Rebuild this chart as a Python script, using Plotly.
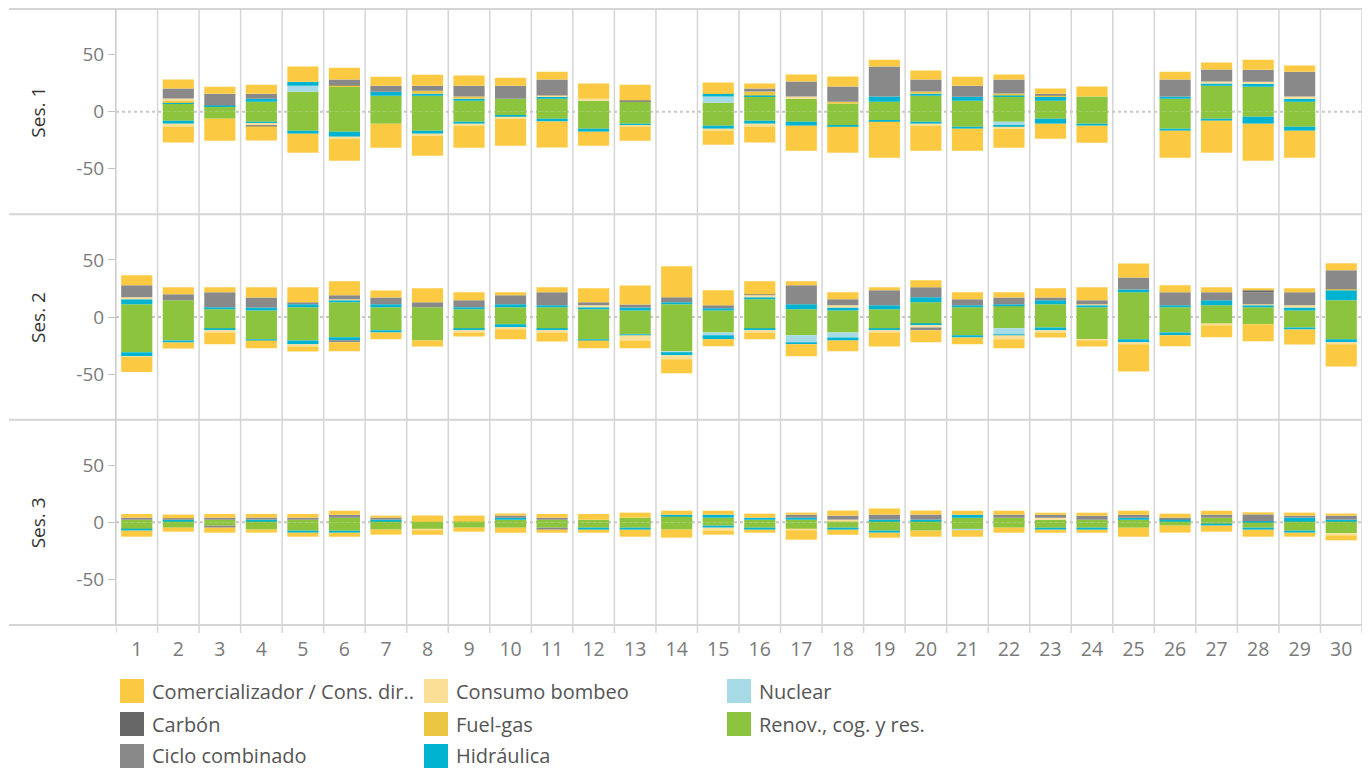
import plotly.graph_objects as go
from plotly.subplots import make_subplots

# ---------------- data ----------------
DAYS = list(range(1, 31))
DAY_LABELS = [str(d) for d in DAYS]
SESSIONS = ["Ses. 1", "Ses. 2", "Ses. 3"]

# legend order (as shown in the legend, row by row)
LEGEND_ITEMS = ["Comercializador / Cons. dir..", "Consumo bombeo", "Nuclear",
                "Carbón", "Fuel-gas", "Renov., cog. y res.",
                "Ciclo combinado", "Hidráulica"]
# stacking order from zero outward
STACK_ORDER = ["Renov., cog. y res.", "Nuclear", "Hidráulica", "Fuel-gas",
               "Consumo bombeo", "Ciclo combinado", "Carbón",
               "Comercializador / Cons. dir.."]
COLORS = {
    "Comercializador / Cons. dir..": "#FCCA42",
    "Consumo bombeo": "#FBDF97",
    "Nuclear": "#A6DAE6",
    "Carbón": "#676767",
    "Fuel-gas": "#EAC642",
    "Renov., cog. y res.": "#8CC43E",
    "Ciclo combinado": "#898989",
    "Hidráulica": "#00B3D0",
}

# ---- Session 1 ----
S1_REN_UP = [0, 7.3, 4.4, 8.8, 17.5, 21.9, 14.0, 14.0, 9.6, 11.4, 11.4, 9.6, 9.1, 0, 7.9, 13.2, 11.4, 7.0, 8.8, 14.0, 9.6, 13.2, 9.6, 13.2, 0, 11.4, 22.8, 21.9, 8.8, 0]
S1_REN_DN = [0, -7.9, -6.1, -8.8, -16.7, -17.5, -10.5, -16.7, -8.8, -3.5, -6.1, -14.9, -10.5, 0, -12.3, -7.9, -8.8, -12.3, -7.9, -8.8, -13.2, -8.8, -6.1, -10.5, 0, -14.9, -6.1, -4.4, -13.2, 0]
S1_NUC_UP = [0, 0, 0, 0, 5.3, 0, 0, 0, 0, 0, 0, 0, 0, 0, 5.3, 0, 0, 0, 0, 0, 0, 0, 0, 0, 0, 0, 0, 0, 0, 0]
S1_NUC_DN = [0, 0, 0, 0, 0, 0, 0, 0, 0, 0, 0, 0, 0, 0, 0, 0, 0, 0, 0, 0, 0, -3.5, 0, 0, 0, 0, 0, 0, 0, 0]
S1_HID_UP = [0, 0.9, 0.9, 2.6, 3.5, 0, 3.5, 1.8, 1.8, 0, 1.8, 0, 0, 0, 2.6, 0.9, 0, 0, 4.4, 1.8, 3.5, 0.9, 3.5, 0, 0, 1.8, 1.8, 2.6, 2.6, 0]
S1_HID_DN = [0, -2.6, 0, -1.8, -2.6, -4.4, 0, -2.6, -1.8, -0.9, -2.6, -2.6, -1.8, 0, -2.6, -2.6, -3.5, -0.9, -0.9, -1.8, -1.8, -0.9, -4.4, -1.8, 0, -1.8, -1.8, -6.1, -3.5, 0]
S1_FUE_UP = [0, 1.5, 0, 0, 0, 0.9, 0, 2.6, 1.8, 0, 0, 0, 0, 0, 1.0, 3.5, 0, 1.8, 0, 1.8, 0, 1.8, 0.9, 0, 0, 0, 0, 0, 0, 0]
S1_BOM_UP = [0, 1.8, 0, 0, 0, 0, 0, 0, 0, 0, 0.9, 1.8, 0, 0, 0, 0, 1.8, 0, 0, 0, 0, 0, 0, 0, 0, 0, 1.8, 1.8, 1.8, 0]
S1_BOM_DN = [0, -2.6, 0, -1.2, 0, -1.8, 0, -1.8, -1.8, -1.8, 0, 0, -0.9, 0, -1.8, -2.6, 0, 0, 0, -1.8, 0, -1.8, 0, 0, 0, 0, 0, 0, 0, 0]
S1_CIC_UP = [0, 8.8, 10.5, 4.4, 0, 5.3, 5.3, 4.4, 9.6, 11.4, 14.0, 0, 0.9, 0, 0, 2.6, 13.2, 13.2, 26.3, 10.5, 9.6, 12.3, 1.8, 0, 0, 14.9, 10.5, 10.5, 21.9, 0]
S1_CIC_DN = [0, 0, 0, -1.2, 0, 0, 0, 0, 0, 0, 0, 0, 0, 0, 0, 0, 0, 0, 0, 0, 0, 0, 0, 0, 0, 0, 0, 0, 0, 0]
S1_COM_UP = [0, 7.9, 6.1, 7.9, 13.2, 10.5, 7.9, 9.6, 8.8, 7.0, 7.0, 13.2, 13.7, 0, 8.8, 4.4, 6.1, 8.8, 6.1, 7.9, 7.9, 4.4, 4.4, 8.8, 0, 7.0, 6.1, 8.8, 5.3, 0]
S1_COM_DN = [0, -14.0, -19.3, -12.3, -16.7, -19.3, -21.1, -17.5, -19.3, -23.7, -22.8, -12.3, -12.3, 0, -12.3, -14.0, -21.9, -22.8, -31.6, -21.9, -19.3, -16.7, -13.2, -14.9, 0, -23.7, -28.1, -32.5, -23.7, 0]

# ---- Session 2 ----
S2_REN_UP = [11.1, 14.6, 6.7, 5.8, 8.5, 12.9, 8.5, 8.5, 6.7, 8.5, 8.5, 6.7, 5.8, 11.1, 5.8, 15.5, 6.7, 5.8, 6.7, 12.9, 8.5, 10.2, 11.1, 8.5, 21.6, 8.5, 10.2, 8.5, 5.8, 14.6]
S2_REN_DN = [-31.0, -20.5, -10.8, -19.6, -20.5, -17.8, -11.7, -20.5, -10.8, -6.4, -10.8, -19.6, -15.2, -30.1, -13.5, -10.8, -16.1, -13.5, -10.8, -6.4, -16.1, -9.9, -9.1, -19.6, -19.6, -13.5, -6.4, -6.4, -9.1, -19.6]
S2_NUC_DN = [0, 0, 0, 0, 0, 0, 0, 0, 0, 0, 0, 0, 0, -0.9, -2.6, 0, -6.1, -4.4, 0, 0, 0, -5.3, 0, 0, 0, 0, 0, 0, 0, 0]
S2_HID_UP = [4.4, 0, 1.8, 2.6, 2.6, 1.8, 2.6, 0, 1.8, 2.6, 1.8, 1.8, 2.6, 1.8, 1.8, 1.8, 4.4, 2.6, 3.5, 4.4, 1.8, 0.9, 3.5, 1.8, 2.6, 1.8, 4.4, 1.8, 2.6, 8.8]
S2_HID_DN = [-3.5, -1.8, -0.9, -0.9, -3.5, -2.6, -1.8, 0, -0.9, -2.6, -0.9, -0.9, -0.9, -2.6, -3.5, -0.9, -1.8, -2.6, -0.9, -0.9, -1.8, -0.9, -2.6, 0, -2.6, -2.6, 0, 0, -1.8, -2.6]
S2_FUE_UP = [0, 0, 0, 0, 0, 0, 0, 0, 0, 0, 0, 0, 0, 0, 0, 0, 0, 0, 0, 0, 0, 0, 0, 0, 0, 0, 0, 0, 0, 0.9]
S2_BOM_UP = [1.8, 0, 0, 0, 0, 0.9, 0, 0, 0, 0, 0, 1.8, 0, 0, 0, 1.8, 0, 1.8, 0, 0, 0, 0, 0, 0.9, 0, 0, 0, 0.9, 1.8, 0]
S2_BOM_DN = [-0.6, 0, -1.8, 0, -1.8, 0, 0, 0, -1.8, -1.8, -1.8, 0, -4.4, -3.5, 0, -1.8, 0, 0, -1.8, -1.8, 0, -3.5, -1.8, -0.9, -1.8, 0, -0.9, 0, 0, -1.8]
S2_CIC_UP = [10.5, 5.3, 13.2, 8.8, 1.8, 3.5, 6.1, 4.4, 6.1, 7.9, 11.4, 2.6, 2.6, 4.4, 2.6, 0.9, 16.7, 5.3, 13.2, 8.8, 5.3, 6.1, 2.6, 3.5, 10.5, 11.4, 7.0, 10.5, 11.4, 16.7]
S2_CIC_DN = [0, 0, 0, 0, 0, -1.8, 0, 0, 0, 0, 0, 0, 0, 0, 0, 0, 0, 0, 0, -2.6, 0, 0, 0, 0, 0, 0, 0, 0, 0, 0]
S2_CAR_UP = [0, 0, 0, 0, 0, 0, 0, 0, 0, 0, 0, 0, 0, 0, 0, 0, 0, 0, 0, 0, 0, 0, 0, 0, 0, 0, 0, 1.8, 0, 0]
S2_COM_UP = [8.8, 6.1, 4.4, 8.8, 13.2, 12.3, 6.1, 12.3, 7.0, 2.6, 4.4, 12.3, 16.7, 27.2, 13.2, 11.4, 3.5, 6.1, 2.6, 6.1, 6.1, 4.4, 7.9, 11.4, 12.3, 6.1, 4.4, 1.8, 3.5, 6.1]
S2_COM_DN = [-13.2, -5.3, -10.5, -7.0, -4.4, -7.9, -6.1, -5.3, -3.5, -8.8, -7.9, -7.0, -7.0, -12.3, -6.1, -6.1, -10.5, -9.6, -12.3, -10.5, -6.1, -7.9, -4.4, -5.3, -23.7, -9.6, -10.5, -14.9, -13.2, -19.3]

# ---- Session 3 ----
S3_REN_UP = [2.3, 0.6, 2.3, 0.6, 2.3, 4.1, 0.6, 0.6, 0.6, 2.3, 2.3, 2.3, 4.1, 5.8, 4.1, 2.3, 2.3, 0.6, 0.6, 0.6, 4.1, 4.1, 2.3, 2.3, 2.3, 0.6, 4.1, 0.3, 0.6, 0.6]
S3_REN_DN = [-6.4, -4.7, -2.9, -6.4, -7.3, -7.3, -6.4, -6.4, -4.7, -4.7, -4.7, -4.7, -4.7, -6.4, -2.9, -4.7, -6.4, -4.7, -7.3, -7.3, -6.4, -4.7, -4.7, -4.7, -4.7, -2.9, -2.0, -4.7, -7.3, -9.6]
S3_NUC_DN = [0, 0, 0, 0, 0, 0, 0, 0, 0, 0, 0, 0, 0, 0, 0, 0, 0, 0, 0, 0, -0.6, 0, 0, 0, 0, 0, 0, 0, 0, 0]
S3_HID_UP = [0, 1.8, 0, 1.8, 0, 0, 1.8, 0, 0, 1.8, 0, 0, 0, 0.9, 2.6, 1.8, 1.8, 0, 1.8, 1.8, 2.6, 0, 0, 0, 1.8, 2.6, 0, 0.6, 3.5, 1.8]
S3_HID_DN = [-0.9, 0, 0, 0, -1.8, -1.8, 0, 0, 0, 0, 0, -1.8, -1.8, 0, -1.8, -1.8, 0, -1.8, -1.8, 0, 0, 0, -1.8, -1.8, 0, 0, -0.9, -1.8, -1.8, 0]
S3_BOM_UP = [0, 0, 0, 0, 0, 0, 0, 0, 0, 0, 0, 0, 0, 0, 0, 0, 0, 1.8, 0, 0, 0, 0, 1.8, 0, 0, 0, 0, 0, 0, 0]
S3_BOM_DN = [0, 0, 0, 0, 0, 0, 0, -0.6, 0, 0, 0, 0, 0, 0, -2.6, 0, -0.6, 0, 0, 0, 0, 0, 0, 0, 0, 0, 0, 0, 0, -1.8]
S3_CIC_UP = [1.8, 1.2, 1.8, 1.8, 1.8, 2.6, 1.8, 0, 0, 1.8, 1.8, 0, 0, 0, 0, 0, 2.6, 3.5, 4.4, 4.4, 0, 2.6, 2.6, 3.5, 2.6, 0.9, 2.6, 6.1, 1.8, 3.5]
S3_CIC_DN = [0, 0, -1.8, 0, 0, 0, 0, 0, 0, 0, -1.8, 0, 0, 0, 0, 0, 0, 0, 0, 0, 0, 0, 0, 0, 0, 0, 0, 0, 0, 0]
S3_COM_UP = [3.2, 3.2, 3.2, 3.2, 3.2, 3.5, 1.5, 5.3, 5.3, 1.8, 3.2, 5.0, 4.4, 3.5, 3.5, 3.5, 1.8, 4.4, 5.3, 3.5, 3.5, 3.5, 1.8, 2.6, 3.5, 3.5, 3.5, 1.8, 2.6, 1.8]
S3_COM_DN = [-5.3, -3.5, -4.4, -2.6, -3.5, -3.5, -4.4, -3.8, -3.5, -4.4, -2.6, -2.6, -6.1, -7.0, -3.5, -2.6, -8.2, -4.4, -4.4, -5.3, -5.6, -4.4, -2.6, -2.6, -7.9, -6.1, -5.3, -6.1, -3.5, -4.4]

# table of series per session: (category -> (up, down))
SERIES = [
    {"Renov., cog. y res.": (S1_REN_UP, S1_REN_DN), "Nuclear": (S1_NUC_UP, S1_NUC_DN),
     "Hidráulica": (S1_HID_UP, S1_HID_DN), "Fuel-gas": (S1_FUE_UP, None),
     "Consumo bombeo": (S1_BOM_UP, S1_BOM_DN), "Ciclo combinado": (S1_CIC_UP, S1_CIC_DN),
     "Comercializador / Cons. dir..": (S1_COM_UP, S1_COM_DN)},
    {"Renov., cog. y res.": (S2_REN_UP, S2_REN_DN), "Nuclear": (None, S2_NUC_DN),
     "Hidráulica": (S2_HID_UP, S2_HID_DN), "Fuel-gas": (S2_FUE_UP, None),
     "Consumo bombeo": (S2_BOM_UP, S2_BOM_DN), "Ciclo combinado": (S2_CIC_UP, S2_CIC_DN),
     "Carbón": (S2_CAR_UP, None),
     "Comercializador / Cons. dir..": (S2_COM_UP, S2_COM_DN)},
    {"Renov., cog. y res.": (S3_REN_UP, S3_REN_DN), "Nuclear": (None, S3_NUC_DN),
     "Hidráulica": (S3_HID_UP, S3_HID_DN),
     "Consumo bombeo": (S3_BOM_UP, S3_BOM_DN), "Ciclo combinado": (S3_CIC_UP, S3_CIC_DN),
     "Comercializador / Cons. dir..": (S3_COM_UP, S3_COM_DN)},
]

# ---------------- figure ----------------
OFF = 8                      # page body margin of the browser
W, H = 1356, 763
ML, MR, MT, MB = 108, 2, 1, 146
PW, PH = W - ML - MR, H - MT - MB

def px_x(page_px):
    return (page_px - OFF - ML) / PW

def px_y(page_py):
    return (H - MB - (page_py - OFF)) / PH

FONT = "'Open Sans', Lato, sans-serif"

fig = make_subplots(rows=3, cols=1, shared_xaxes=True, vertical_spacing=0)

for r, ses in enumerate(SERIES, start=1):
    for cat in STACK_ORDER:
        if cat not in ses:
            continue
        up, dn = ses[cat]
        for vals in (up, dn):
            if vals is None:
                continue
            fig.add_trace(go.Bar(
                x=DAYS, y=vals, name=cat, marker_color=COLORS[cat],
                marker_line_width=0, showlegend=False, legendgroup=cat,
                hovertemplate=cat + ": %{y}<extra></extra>"),
                row=r, col=1)

fig.update_layout(
    width=W, height=H, barmode="relative", bargap=0.25,
    margin=dict(l=ML, r=MR, t=MT, b=MB),
    plot_bgcolor="white", paper_bgcolor="white",
    font=dict(family=FONT, color="#666"),
    showlegend=False,
)

for r in (1, 2, 3):
    fig.update_xaxes(range=[0.5, 30.5], showgrid=False, zeroline=False,
                     showline=False, tickvals=DAYS, ticktext=DAY_LABELS,
                     row=r, col=1)
    fig.update_yaxes(range=[-90, 90], tickvals=[-50, 0, 50],
                     ticktext=["-50", "0", "50"], showgrid=False,
                     zeroline=False, showline=True, linecolor="#cfcfcf",
                     linewidth=1, ticks="outside", ticklen=7,
                     tickcolor="#c4c4c4", tickwidth=1,
                     tickfont=dict(size=19, color="#7a7a7a", family=FONT),
                     row=r, col=1)
fig.update_xaxes(ticks="outside", ticklen=7, tickcolor="rgba(0,0,0,0)",
                 tickfont=dict(size=19.5, color="#7a7a7a", family=FONT),
                 row=3, col=1)

shapes = []
GRID = "#d5d5d5"
# column dividers (with tick marks below the last row)
for k in range(31):
    xb = 0.5 + k
    shapes.append(dict(type="line", xref="x", yref="paper", x0=xb, x1=xb,
                       y0=-8 / PH, y1=1, line=dict(color=GRID, width=1.5),
                       layer="below"))
# row dividers
for yv in (1, 2 / 3, 1 / 3, 0):
    shapes.append(dict(type="line", xref="paper", yref="paper", x0=px_x(9),
                       x1=1, y0=yv, y1=yv, line=dict(color=GRID, width=2),
                       layer="below"))
# dotted zero lines
for yr in ("y", "y2", "y3"):
    shapes.append(dict(type="line", xref="paper", yref=yr, x0=0, x1=1,
                       y0=0, y1=0, line=dict(color="#c8c8c8", width=2, dash="dot"),
                       layer="below"))

annotations = []
# row headers
for i, lab in enumerate(SESSIONS):
    yc = 1 - (i + 0.5) / 3
    annotations.append(dict(text=lab, xref="paper", yref="paper", x=px_x(38),
                            y=yc, textangle=-90, showarrow=False,
                            xanchor="center", yanchor="middle",
                            font=dict(size=19, color="#333", family=FONT)))

# legend (3 columns, filled row by row)
COL_SW = [120, 424, 727]
COL_TX = [153, 457, 760]
ROW_Y = [691, 724, 756]
for i, cat in enumerate(LEGEND_ITEMS):
    row, col = divmod(i, 3)
    cy = ROW_Y[row]
    shapes.append(dict(type="rect", xref="paper", yref="paper",
                       x0=px_x(COL_SW[col]), x1=px_x(COL_SW[col] + 24),
                       y0=px_y(cy + 12), y1=px_y(cy - 12),
                       fillcolor=COLORS[cat], line=dict(width=0)))
    annotations.append(dict(text=cat, xref="paper", yref="paper",
                            x=px_x(COL_TX[col] - 2), y=px_y(cy), showarrow=False,
                            xanchor="left", yanchor="middle", borderpad=0,
                            font=dict(size=20, color="#555", family=FONT)))

fig.update_layout(shapes=shapes, annotations=annotations)
fig.write_html("out.html")
